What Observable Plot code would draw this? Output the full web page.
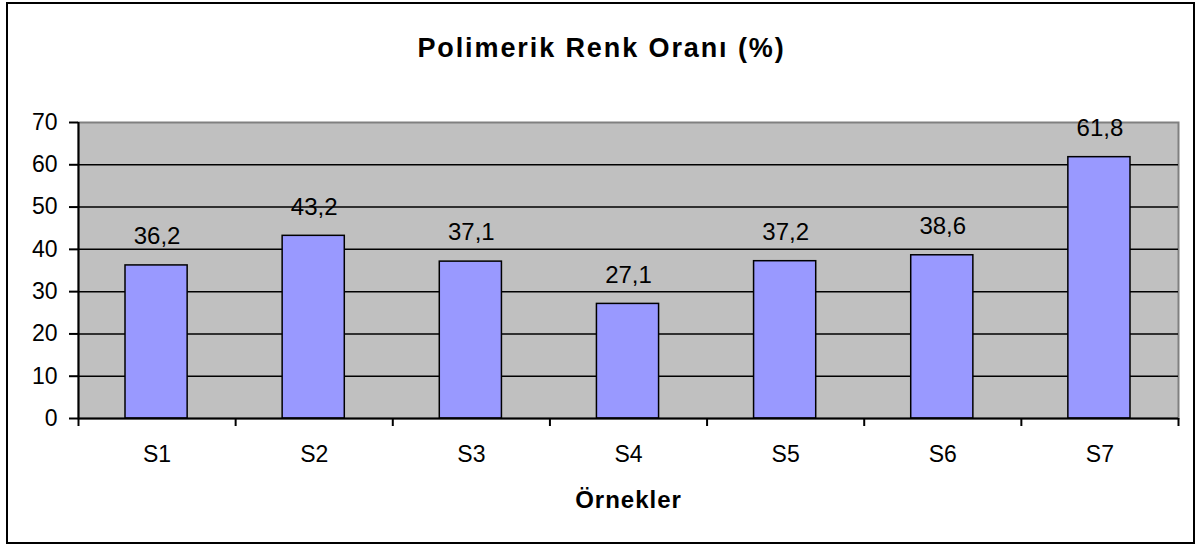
<!DOCTYPE html>
<html><head><meta charset="utf-8">
<script src="https://cdn.jsdelivr.net/npm/d3@7"></script>
<script src="https://cdn.jsdelivr.net/npm/@observablehq/plot@0.6"></script>
<style>
body{margin:0;background:#fff;}
#wrap{position:relative;width:1199px;height:546px;}
#border{position:absolute;left:6px;top:2px;width:1189px;height:542px;border:2px solid #000;pointer-events:none;box-sizing:border-box}
svg{display:block}
</style></head><body>
<div id="wrap"><div id="border"></div></div>
<script>
const categories = ["S1","S2","S3","S4","S5","S6","S7"];
const values = [36.2,43.2,37.1,27.1,37.2,38.6,61.8];
const valueLabels = ["36,2","43,2","37,1","27,1","37,2","38,6","61,8"];
const yTicks = [0,10,20,30,40,50,60,70];
const title = "Polimerik Renk Oranı (%)";
const xTitle = "Örnekler";

const data = categories.map((c,i)=>({cat:c, i, value: values[i], label: valueLabels[i]}));
const bounds = d3.range(categories.length+1);
const centers = categories.map((c,i)=>i+0.5);

const chart = Plot.plot({
  width:1199, height:546,
  marginLeft:78, marginRight:21, marginTop:122, marginBottom:128,
  style:{fontFamily:"'Liberation Sans', Arial, sans-serif", fontSize:"23px", color:"#000", background:"transparent", overflow:"visible"},
  x:{domain:[0,categories.length], axis:null},
  y:{domain:[0,70], axis:null},
  marks:[
    Plot.frame({fill:"#c0c0c0", stroke:"#808080", strokeWidth:2}),
    Plot.ruleY(yTicks.filter(t=>t>0 && t<70), {stroke:"#000", strokeWidth:1.5}),
    Plot.rectY(data, {x1:"i", x2:d=>d.i+1, y:"value", insetLeft:47, insetRight:48, fill:"#9999ff", stroke:"#000", strokeWidth:1.5}),
    Plot.ruleX([0], {stroke:"#000", strokeWidth:2}),
    Plot.ruleY([0], {stroke:"#000", strokeWidth:2}),
    Plot.axisY({ticks:yTicks, tickSize:9, tickPadding:12, tickFormat:d=>String(d), strokeWidth:2, fontSize:23, label:null}),
    Plot.axisX({ticks:bounds, tickSize:8, tickFormat:()=>"", strokeWidth:2, label:null}),
    Plot.axisX({ticks:centers, tickSize:0, tickPadding:27, tickFormat:d=>categories[Math.floor(d)], fontSize:23, label:null}),
    Plot.text(data, {x:d=>d.i+0.5, y:"value", text:"label", dy:-29, fontSize:24, fill:"#000"}),
    Plot.text([title], {frameAnchor:"top", lineAnchor:"middle", dx:-27, dy:-74, fontSize:27, fontWeight:"bold", fill:"#000"}),
    Plot.text([xTitle], {frameAnchor:"bottom", lineAnchor:"middle", dy:82, fontSize:24, fontWeight:"bold", fill:"#000"})
  ]
});
d3.select(chart).selectAll("text").each(function(){
  const t = this.textContent;
  if (t === title) this.style.letterSpacing = "1.9px";
  else if (t === xTitle) this.style.letterSpacing = "1px";
});
document.getElementById("wrap").prepend(chart);
</script>
</body></html>
